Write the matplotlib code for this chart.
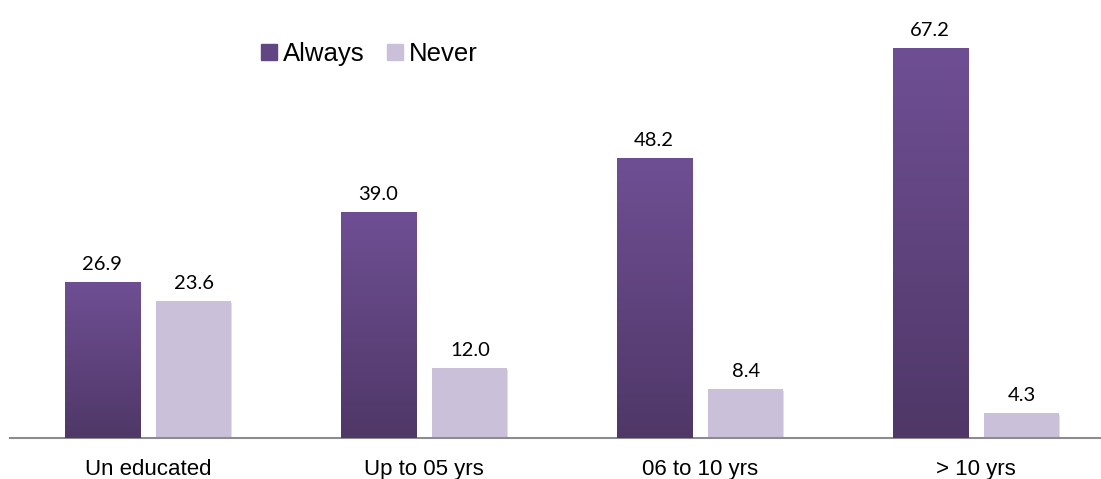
import matplotlib.pyplot as plt
import numpy as np
from matplotlib.colors import LinearSegmentedColormap
from matplotlib.patches import Patch

# data
categories = ['Un educated', 'Up to 05 yrs', '06 to 10 yrs', '> 10 yrs']
always = [26.9, 39.0, 48.2, 67.2]
never = [23.6, 12.0, 8.4, 4.3]

fig = plt.figure(figsize=(11.01, 4.79), dpi=100)
ax = fig.add_axes([10 / 1101, 41 / 479, 1 - 10 / 1101, 1 - 41 / 479])

x = np.arange(len(categories))
w = 0.272
off = 0.166

purple_cm = LinearSegmentedColormap.from_list('pur', ['#4f3767', '#6f4f94'])
grad = np.linspace(0, 1, 256).reshape(-1, 1)

bars_a = ax.bar(x - off, always, width=w, color='#614683', zorder=2)
bars_n = ax.bar(x + off, never, width=w, color='#cbc0da', zorder=2)

# gradient fill for the dark bars
for b in bars_a:
    x0, y0 = b.get_x(), b.get_y()
    im = ax.imshow(grad, extent=[x0, x0 + b.get_width(), y0, y0 + b.get_height()],
                   aspect='auto', cmap=purple_cm, origin='lower', zorder=3)
    im.set_clip_path(b)

# soft shadow
for b in list(bars_a) + list(bars_n):
    ax.bar(b.get_x() + b.get_width() / 2 + 0.004, b.get_height(), width=b.get_width(),
           bottom=-0.3, color='#000000', alpha=0.12, zorder=1)

for xi, v in zip(x - off, always):
    ax.text(xi, v + 1.6, f'{v:.1f}', ha='center', va='bottom', fontsize=14.5, family='Lato')
for xi, v in zip(x + off, never):
    ax.text(xi, v + 1.6, f'{v:.1f}', ha='center', va='bottom', fontsize=14.5, family='Lato')

ax.set_xlim(-0.5, -0.5 + 1091 / 276)
ax.set_ylim(0, 438 / 5.8)
ax.set_xticks(x)
ax.set_xticklabels(categories, fontsize=16, family='Liberation Sans')
ax.tick_params(axis='x', length=0, pad=15)
ax.set_yticks([])
for s in ['top', 'right', 'left']:
    ax.spines[s].set_visible(False)
ax.spines['bottom'].set_color('#8c8c8c')
ax.spines['bottom'].set_linewidth(1.5)

handles = [Patch(color='#614683', label='Always'), Patch(color='#cbc0da', label='Never')]
fig.legend(handles=handles, loc='center left', bbox_to_anchor=(261 / 1101, 1 - 54 / 479),
           ncol=2, frameon=False, prop={'family': 'Liberation Sans', 'size': 18.5},
           handlelength=0.62, handleheight=0.62, handletextpad=0.25, columnspacing=0.85,
           borderpad=0, borderaxespad=0)

fig.savefig('out.png', dpi=100)
